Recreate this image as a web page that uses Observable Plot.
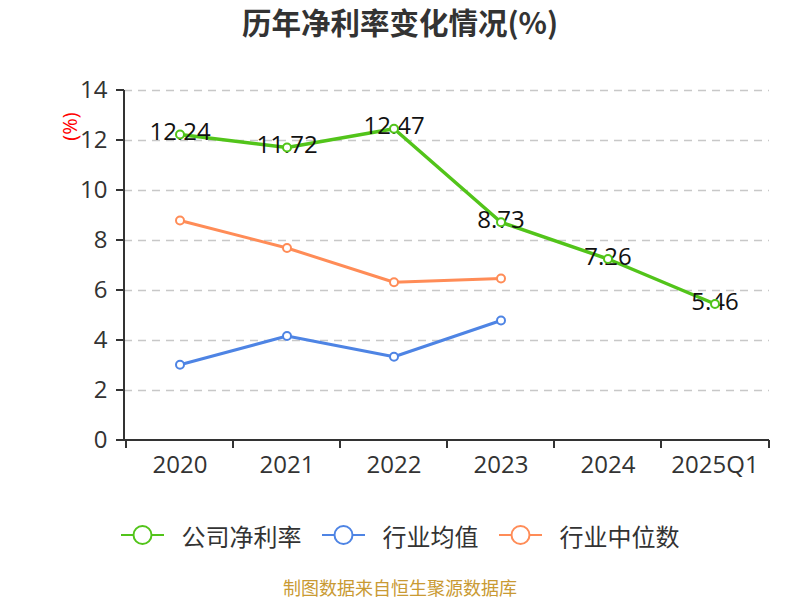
<!DOCTYPE html>
<html>
<head>
<meta charset="utf-8">
<script src="https://cdn.jsdelivr.net/npm/d3@7"></script>
<script src="https://cdn.jsdelivr.net/npm/@observablehq/plot@0.6"></script>
<style>
  html, body { margin: 0; padding: 0; background: #fff; }
  body { width: 800px; height: 600px; overflow: hidden; font-family: "Open Sans", "Noto Sans CJK SC", sans-serif; }
  #title { height: 48px; line-height: 42px; text-align: center; font-family: "Noto Sans CJK SC", sans-serif; font-weight: bold; font-size: 29.5px; color: #333; }
  #chart svg { display: block; }
  #legend { margin-top: 30px; height: 34px; display: flex; justify-content: center; align-items: center; font-family: "Noto Sans CJK SC", sans-serif; font-size: 24px; color: #333; }
  .item { display: flex; align-items: center; margin: 0 10px; }
  .item svg { margin-right: 18px; }
  #caption { margin-top: 24px; height: 22px; line-height: 22px; text-align: center; font-family: "Noto Sans CJK SC", sans-serif; font-size: 18px; color: #c99a33; }
</style>
</head>
<body>
<div id="title">历年净利率变化情况(%)</div>
<div id="chart"></div>
<div id="legend"></div>
<div id="caption">制图数据来自恒生聚源数据库</div>
<script>
const categories = ["2020", "2021", "2022", "2023", "2024", "2025Q1"];
const companyRate = [12.24, 11.72, 12.47, 8.73, 7.26, 5.46];
const industryAvg = [3.03, 4.18, 3.35, 4.80];
const industryMedian = [8.80, 7.70, 6.33, 6.48];
const yTicks = [0, 2, 4, 6, 8, 10, 12, 14];
const seriesNames = ["公司净利率", "行业均值", "行业中位数"];
const seriesColors = ["#52c41a", "#4e84e4", "#ff8c57"];
const yUnit = "(%)";

const seriesValues = [companyRate, industryAvg, industryMedian];
const rows = [];
seriesValues.forEach((vals, s) => vals.forEach((v, i) => rows.push({series: seriesNames[s], cat: categories[i], value: v})));
const companyRows = rows.filter(d => d.series === seriesNames[0]);

// axis lines and boundary ticks drawn from the band scale
function axisDecor(index, scales, values, dims) {
  const x = scales.x, y = scales.y;
  const g = d3.create("svg:g").attr("stroke", "#333").attr("stroke-width", 2).attr("fill", "none");
  const x0 = dims.marginLeft, x1 = dims.width - dims.marginRight;
  const y0 = y(0);
  g.append("line").attr("x1", x0).attr("x2", x0).attr("y1", y(yTicks[yTicks.length - 1])).attr("y2", y0);
  g.append("line").attr("x1", x0).attr("x2", x1).attr("y1", y0).attr("y2", y0);
  const bounds = categories.map(c => x(c)).concat([x1]);
  for (const b of bounds) g.append("line").attr("x1", b).attr("x2", b).attr("y1", y0).attr("y2", y0 + 8);
  for (const t of yTicks) g.append("line").attr("x1", x0 - 8).attr("x2", x0).attr("y1", y(t)).attr("y2", y(t));
  return g.node();
}

const chart = Plot.plot({
  width: 800,
  height: 440,
  marginLeft: 124,
  marginRight: 31,
  marginTop: 42,
  marginBottom: 48,
  style: {fontFamily: "'Open Sans', 'Noto Sans CJK SC', sans-serif", fontSize: "24px", color: "#333", background: "white", overflow: "visible"},
  x: {type: "band", domain: categories, padding: 0, label: null},
  y: {domain: [0, 14], label: null},
  color: {domain: seriesNames, range: seriesColors},
  marks: [
    Plot.gridY(yTicks.filter(t => t > 0), {stroke: "#c8c8c8", strokeOpacity: 1, strokeWidth: 1.5, strokeDasharray: "8,6"}),
    Plot.axisY({ticks: yTicks, tickSize: 0, tickPadding: 17, fontSize: 24, fill: "#333", label: null}),
    Plot.axisX({tickSize: 0, tickPadding: 15, fontSize: 24, fill: "#333", label: null}),
    axisDecor,
    Plot.text([yUnit], {frameAnchor: "top-left", rotate: -90, dx: -62, dy: 36, fill: "red", fontSize: 20, textAnchor: "middle"}),
    Plot.line(rows, {x: "cat", y: "value", z: "series", stroke: "series", strokeWidth: d => d.series === seriesNames[0] ? 3.5 : 3}),
    Plot.text(companyRows, {x: "cat", y: "value", text: d => d.value.toFixed(2), dy: -2, fontSize: 24, fill: "#111"}),
    Plot.dot(rows, {x: "cat", y: "value", stroke: "series", fill: "white", r: 4, strokeWidth: 2})
  ]
});
document.getElementById("chart").append(chart);

const legend = document.getElementById("legend");
seriesNames.forEach((name, i) => {
  const item = document.createElement("div");
  item.className = "item";
  item.innerHTML = `<svg width="43" height="24"><line x1="0" x2="43" y1="12" y2="12" stroke="${seriesColors[i]}" stroke-width="2"/><circle cx="21.5" cy="12" r="9" fill="white" stroke="${seriesColors[i]}" stroke-width="2"/></svg><span>${name}</span>`;
  legend.append(item);
});
</script>
</body>
</html>
